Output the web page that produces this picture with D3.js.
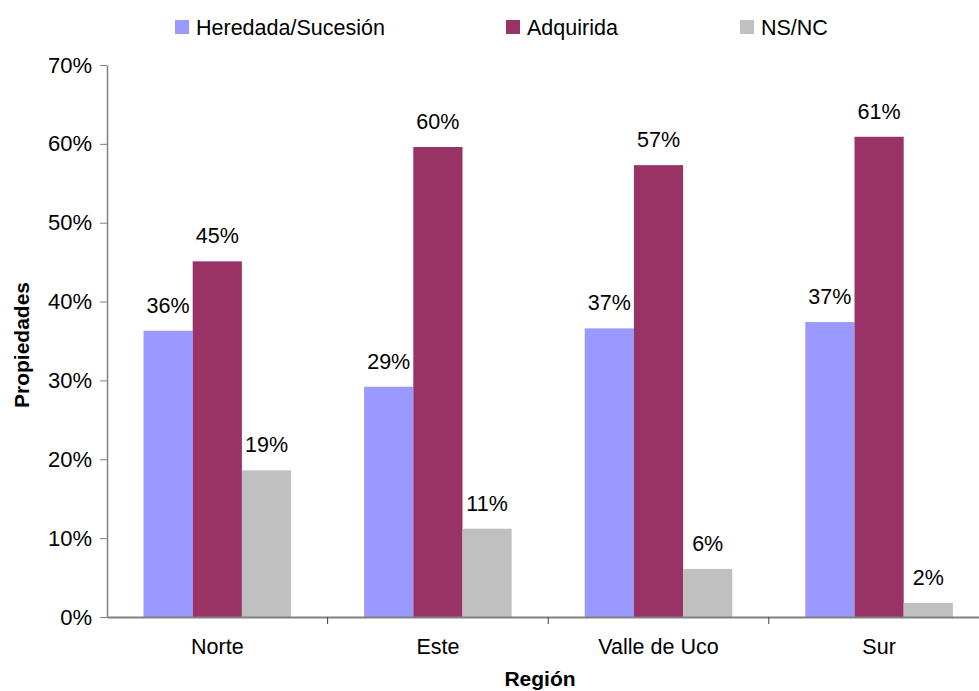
<!DOCTYPE html>
<html>
<head>
<meta charset="utf-8">
<script src="https://cdn.jsdelivr.net/npm/d3@7"></script>
<style>
  html, body { margin: 0; padding: 0; background: #fff; }
  svg { display: block; font-family: "Liberation Sans", Arial, sans-serif; }
</style>
</head>
<body>
<svg id="chart" width="979" height="691"></svg>
<script>
// Regions and the share of properties by origin
const regions = ["Norte", "Este", "Valle de Uco", "Sur"];
const seriesNames = ["Heredada/Sucesión", "Adquirida", "NS/NC"];
const heredada = [0.363, 0.292, 0.366, 0.374];
const adquirida = [0.451, 0.596, 0.573, 0.609];
const nsnc = [0.186, 0.112, 0.061, 0.018];
const seriesColors = ["#9999FF", "#993366", "#C0C0C0"];
const yTicks = [0, 0.1, 0.2, 0.3, 0.4, 0.5, 0.6, 0.7];

const seriesValues = [heredada, adquirida, nsnc];
const rows = regions.map((r, i) => ({
  region: r,
  values: seriesNames.map((s, j) => ({ series: s, value: seriesValues[j][i] }))
}));

const svg = d3.select("#chart");
const plotLeft = 107, plotRight = 989.4, plotTop = 65, plotBottom = 617;
const labelSize = 21.5;

const y = d3.scaleLinear().domain([0, 0.7]).range([plotBottom, plotTop]);
const x0 = d3.scaleBand().domain(regions).range([plotLeft, plotRight])
  .paddingInner(0.331).paddingOuter(0.1655);
const x1 = d3.scaleBand().domain(seriesNames).range([0, x0.bandwidth()]);
const color = d3.scaleOrdinal().domain(seriesNames).range(seriesColors);
const pct = d3.format(".0%");

// Bars
const groups = svg.append("g").selectAll("g").data(rows).join("g")
  .attr("transform", d => `translate(${x0(d.region)},0)`);

groups.selectAll("rect").data(d => d.values).join("rect")
  .attr("x", d => x1(d.series))
  .attr("y", d => y(d.value))
  .attr("width", x1.bandwidth())
  .attr("height", d => y(0) - y(d.value))
  .attr("fill", d => color(d.series));

// Value labels
groups.selectAll("text").data(d => d.values).join("text")
  .attr("x", d => x1(d.series) + x1.bandwidth() / 2)
  .attr("y", d => y(d.value) - 18)
  .attr("text-anchor", "middle")
  .attr("font-size", labelSize)
  .attr("fill", "#000")
  .text(d => pct(d.value));

// Y axis
const yAxis = svg.append("g")
  .attr("transform", `translate(${plotLeft},0)`)
  .call(d3.axisLeft(y).tickValues(yTicks).tickFormat(pct).tickSize(7).tickPadding(8).tickSizeOuter(0));
yAxis.select(".domain").attr("stroke", "#808080").attr("stroke-width", 1.5);
yAxis.selectAll(".tick line").attr("stroke", "#808080");
yAxis.selectAll(".tick text").attr("font-size", 22).attr("fill", "#000")
  .attr("font-family", "Liberation Sans, Arial, sans-serif");

// X axis
const xAxis = svg.append("g")
  .attr("transform", `translate(0,${plotBottom})`)
  .call(d3.axisBottom(x0).tickSize(0).tickPadding(22).tickSizeOuter(0));
xAxis.select(".domain").attr("stroke", "#808080").attr("stroke-width", 2);
xAxis.selectAll(".tick text").attr("font-size", labelSize).attr("fill", "#000")
  .attr("font-family", "Liberation Sans, Arial, sans-serif");

// Separator ticks between regions
const boundaries = regions.slice(0, -1).map(r => x0(r) + x0.bandwidth() + (x0.step() - x0.bandwidth()) / 2);
xAxis.selectAll(".sep").data(boundaries).join("line")
  .attr("class", "sep")
  .attr("x1", d => d).attr("x2", d => d)
  .attr("y1", 0).attr("y2", 7)
  .attr("stroke", "#404040");

// Axis titles
svg.append("text")
  .attr("transform", `translate(29,${(plotTop + plotBottom) / 2 + 4}) rotate(-90)`)
  .attr("text-anchor", "middle")
  .attr("font-size", 21).attr("font-weight", "bold")
  .text("Propiedades");

svg.append("text")
  .attr("x", 540).attr("y", 686)
  .attr("text-anchor", "middle")
  .attr("font-size", 21).attr("font-weight", "bold")
  .text("Región");

// Legend
const legendX = [175, 506, 740];
const legend = svg.append("g").selectAll("g").data(seriesNames).join("g")
  .attr("transform", (d, i) => `translate(${legendX[i]},20)`);
legend.append("rect").attr("width", 14).attr("height", 14).attr("fill", d => color(d));
legend.append("text").attr("x", 21).attr("y", 15)
  .attr("font-size", labelSize).text(d => d);
</script>
</body>
</html>
